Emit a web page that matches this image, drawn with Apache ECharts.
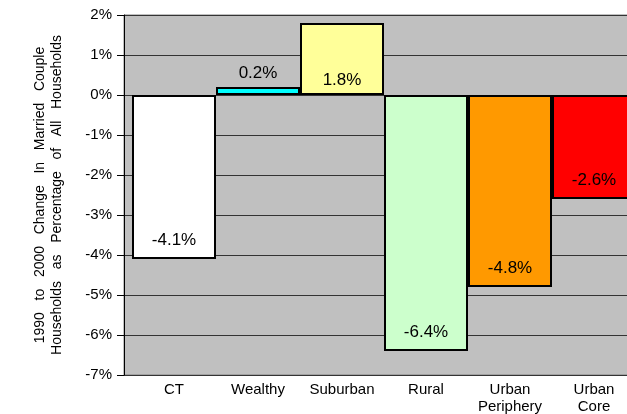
<!DOCTYPE html>
<html>
<head>
<meta charset="utf-8">
<script src="https://cdn.jsdelivr.net/npm/echarts@6/dist/echarts.min.js"></script>
<style>
  html, body { margin: 0; padding: 0; background: #fff; }
  #chart { width: 627px; height: 414px; }
</style>
</head>
<body>
<div id="chart"></div>
<script>
// Household type categories and the 1990-2000 change (percentage points)
const categories = ['CT', 'Wealthy', 'Suburban', 'Rural', 'Urban\nPeriphery', 'Urban\nCore'];
const changeValues = [-4.1, 0.2, 1.8, -6.4, -4.8, -2.6];
const barColors = ['#FFFFFF', '#00FFFF', '#FFFF99', '#CCFFCC', '#FF9900', '#FF0000'];
const yTicks = { min: -7, max: 2, step: 1 };

// Label placement per bar
const labelPlacement = [
  { position: 'insideBottom', distance: 10 },
  { position: 'top', distance: 5 },
  { position: 'insideBottom', distance: 6 },
  { position: 'insideBottom', distance: 10 },
  { position: 'insideBottom', distance: 10 },
  { position: 'insideBottom', distance: 10 }
];

const FONT = 'Liberation Sans, Arial, sans-serif';
const chart = echarts.init(document.getElementById('chart'));

const barData = changeValues.map((v, i) => ({
  value: v,
  itemStyle: { color: barColors[i] },
  label: labelPlacement[i]
}));

chart.setOption({
  animation: false,
  grid: [
    // plot background, value axis and gridlines
    { left: 124, top: 15, width: 530, height: 360, show: true, outerBoundsMode: 'none',
      backgroundColor: '#C0C0C0', borderColor: '#808080', borderWidth: 1 },
    // bars (the last column runs past the right edge)
    { left: 132, top: 15, width: 504, height: 360, outerBoundsMode: 'none' }
  ],
  xAxis: [
    { gridIndex: 0, type: 'value', show: false, min: 0, max: 1 },
    { gridIndex: 1, type: 'category', data: categories,
      axisLine: { show: false }, axisTick: { show: false },
      axisLabel: { color: '#000', fontFamily: FONT, fontSize: 15, margin: 6, lineHeight: 17, interval: 0 } }
  ],
  yAxis: [
    { gridIndex: 0, type: 'value', min: yTicks.min, max: yTicks.max, interval: yTicks.step,
      axisLine: { show: true, lineStyle: { color: '#000', width: 1 } },
      axisTick: { show: true, length: 7, lineStyle: { color: '#000' } },
      axisLabel: { color: '#000', fontFamily: FONT, fontSize: 15, margin: 12, formatter: '{value}%' },
      splitLine: { show: true, lineStyle: { color: '#333', width: 1 } },
      name: '1990   to   2000   Change   In   Married   Couple\nHouseholds   as   Percentage   of   All   Households',
      nameLocation: 'middle', nameRotate: 90, nameGap: 58,
      nameTextStyle: { color: '#000', fontFamily: FONT, fontSize: 14, lineHeight: 17 } },
    { gridIndex: 1, type: 'value', min: yTicks.min, max: yTicks.max, interval: yTicks.step, show: false,
      splitLine: { show: false } }
  ],
  series: [{
    type: 'bar',
    xAxisIndex: 1, yAxisIndex: 1,
    data: barData,
    barWidth: '100%',
    barGap: '0%',
    itemStyle: { borderColor: '#000', borderWidth: 2 },
    label: {
      show: true, color: '#000', fontFamily: FONT, fontSize: 17,
      formatter: p => p.value.toFixed(1) + '%'
    }
  }]
});
</script>
</body>
</html>
